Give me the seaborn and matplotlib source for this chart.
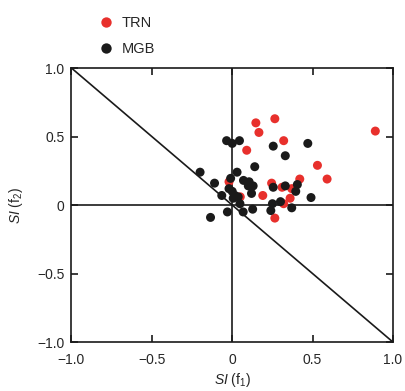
import pandas as pd
import seaborn as sns
import matplotlib.pyplot as plt

# data
trn_x = [0.147, 0.265, 0.166, 0.09, 0.32, 0.89, 0.53, 0.59, 0.42, 0.245, 0.19, 0.31,
         0.37, 0.36, 0.32, 0.265, -0.02, 0.05]
trn_y = [0.60, 0.63, 0.53, 0.40, 0.47, 0.54, 0.29, 0.19, 0.19, 0.16, 0.07, 0.13,
         0.12, 0.05, 0.01, -0.095, 0.17, 0.06]

mgb_x = [-0.035, 0.0, 0.045, 0.255, 0.47, 0.33, 0.14, 0.03, -0.20, -0.11, -0.01, 0.07,
         0.105, 0.13, 0.10, 0.12, -0.065, -0.02, 0.0, 0.017, 0.037, 0.006, 0.048, 0.127,
         0.068, -0.03, -0.135, 0.255, 0.33, 0.405, 0.395, 0.49, 0.30, 0.25, 0.24, 0.37]
mgb_y = [0.47, 0.45, 0.47, 0.43, 0.45, 0.36, 0.28, 0.24, 0.24, 0.16, 0.195, 0.18,
         0.17, 0.14, 0.14, 0.085, 0.07, 0.12, 0.10, 0.07, 0.06, 0.05, 0.01, -0.03,
         -0.05, -0.05, -0.09, 0.13, 0.14, 0.15, 0.10, 0.055, 0.025, 0.01, -0.04, -0.02]

ticks = [-1.0, -0.5, 0, 0.5, 1.0]
tick_labels = ['\u22121.0', '\u22120.5', '0', '0.5', '1.0']

df = pd.DataFrame({
    'x': trn_x + mgb_x,
    'y': trn_y + mgb_y,
    'group': ['TRN'] * len(trn_x) + ['MGB'] * len(mgb_x),
})

sns.set_style('white')
plt.rcParams['font.family'] = ['Liberation Sans', 'DejaVu Sans']
plt.rcParams['mathtext.fontset'] = 'custom'
plt.rcParams['mathtext.rm'] = 'Liberation Sans'
plt.rcParams['mathtext.it'] = 'Liberation Sans:italic'

fig = plt.figure(figsize=(4.06, 3.91), dpi=100)
ax = fig.add_axes([0.176, 0.125, 0.792, 0.701])

# reference lines
ax.plot([-1, 1], [1, -1], color='#1a1a1a', lw=1.2, zorder=1)
ax.axhline(0, color='#1a1a1a', lw=1.2, zorder=1)
ax.axvline(0, color='#1a1a1a', lw=1.2, zorder=1)

sns.scatterplot(data=df, x='x', y='y', hue='group', hue_order=['TRN', 'MGB'],
                palette={'TRN': '#e8302c', 'MGB': '#1a1a1a'}, s=42,
                edgecolor='none', ax=ax, zorder=3)

ax.set_xlim(-1, 1)
ax.set_ylim(-1, 1)
ax.set_xticks(ticks)
ax.set_yticks(ticks)
ax.set_xticklabels(tick_labels, fontsize=10)
ax.set_yticklabels(tick_labels, fontsize=10)
ax.tick_params(direction='in', length=5, width=1.2, color='#1a1a1a',
               top=True, right=True, bottom=True, left=True)
ax.tick_params(axis='x', pad=8)
ax.tick_params(axis='y', pad=5)
for sp in ax.spines.values():
    sp.set_color('#1a1a1a')
    sp.set_linewidth(1.2)

ax.set_xlabel(r'$\mathit{SI}$ (f$_1$)', fontsize=10, labelpad=3)
ax.set_ylabel(r'$\mathit{SI}$ (f$_2$)', fontsize=10, labelpad=9)

ax.legend(loc='upper left', bbox_to_anchor=(0.2, 0.985), bbox_transform=fig.transFigure,
          frameon=False, fontsize=10.5, handletextpad=0.05, labelspacing=0.85,
          markerscale=1.15, borderaxespad=0.3)

fig.savefig('out.png', dpi=100)
